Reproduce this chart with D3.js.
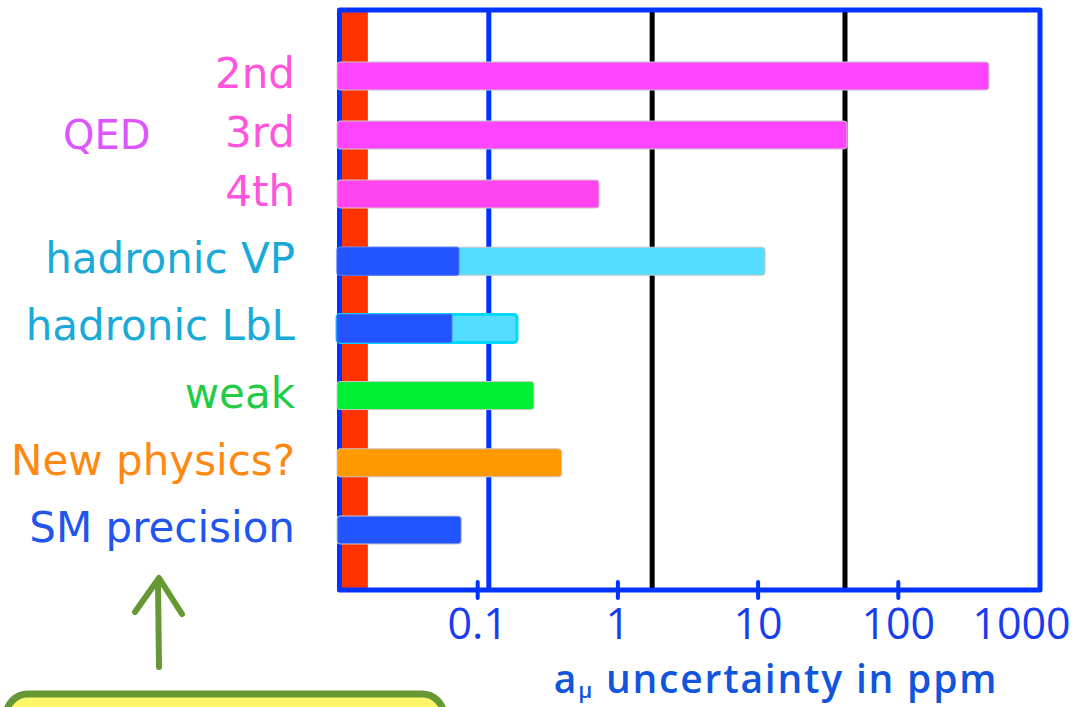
<!DOCTYPE html>
<html>
<head>
<meta charset="utf-8">
<script src="https://cdn.jsdelivr.net/npm/d3@7"></script>
<style>
  html, body { margin: 0; padding: 0; background: #ffffff; }
  svg { display: block; }
</style>
</head>
<body>
<svg id="chart" width="1082" height="707"></svg>
<script>
// Contributions to the muon anomaly and their uncertainty (ppm, log scale)
const rowLabels = ["2nd", "3rd", "4th", "hadronic VP", "hadronic LbL", "weak", "New physics?", "SM precision"];
const barValues = [447, 43.4, 0.74, 11.3, 0.192, 0.254, 0.40, 0.077];
// part of the hadronic bars that remains as uncertainty (darker segment)
const innerValues = [null, null, null, 0.074, 0.066, null, null, null];
const barColors = ["#ff44ff", "#ff44ff", "#ff44f0", "#55ddff", "#55ddff", "#00ee33", "#ff9900", "#2255ff"];
const barStrokes = ["#c8c8c8", "#c8c8c8", "#c8c8c8", "#c8c8c8", "#00d8ff", "#c8c8c8", "#c8c8c8", "#c8c8c8"];
const innerColor = "#2255ff";
const labelColors = ["#ff55dd", "#ff55dd", "#ff55dd", "#1aaad8", "#1aaad8", "#22cc44", "#ff8811", "#2255ee"];

const groupLabel = "QED";
const tickValues = [0.1, 1, 10, 100, 1000];
const tickLabels = ["0.1", "1", "10", "100", "1000"];

// reference levels drawn as vertical lines
const blueLine = 0.121;
const blackLines = [1.77, 42.0];
const redBand = [0.01, 0.0166];

const svg = d3.select("#chart");
svg.append("rect").attr("width", 1082).attr("height", 707).attr("fill", "#ffffff");

const x = d3.scaleLog().domain([0.01, 1000]).range([337, 1038]);
// QED orders sit a little closer together than the other rows
const yRow = d3.scaleLinear().domain([0, 2, 7]).range([76, 194, 530]);
const barH = 28;

const frameTop = 10, frameBottom = 590;
const frameLeft = x.range()[0] + 2.5, frameRight = x.range()[1] + 2;

// red band along the left edge
svg.append("rect")
  .attr("x", x(redBand[0]) + 4)
  .attr("y", frameTop)
  .attr("width", x(redBand[1]) - x(redBand[0]) - 4)
  .attr("height", frameBottom - frameTop)
  .attr("fill", "#ff3300");

// vertical reference lines
svg.append("line")
  .attr("x1", x(blueLine)).attr("x2", x(blueLine))
  .attr("y1", frameTop).attr("y2", frameBottom)
  .attr("stroke", "#0033ff").attr("stroke-width", 5);

svg.selectAll("line.black")
  .data(blackLines).join("line")
  .attr("class", "black")
  .attr("x1", d => x(d)).attr("x2", d => x(d))
  .attr("y1", frameTop).attr("y2", frameBottom)
  .attr("stroke", "#000000").attr("stroke-width", 5);

// plot frame
svg.append("rect")
  .attr("x", frameLeft).attr("y", frameTop)
  .attr("width", frameRight - frameLeft).attr("height", frameBottom - frameTop)
  .attr("fill", "none").attr("stroke", "#0033ff").attr("stroke-width", 5)
  .attr("stroke-linejoin", "round");

// bottom axis: small ticks crossing the frame plus labels
const axis = d3.axisBottom(x)
  .tickValues(tickValues)
  .tickFormat((d, i) => tickLabels[i])
  .tickSizeInner(16).tickSizeOuter(0).tickPadding(0);

const gAxis = svg.append("g")
  .attr("transform", `translate(0,${frameBottom - 8})`)
  .call(axis);
gAxis.select(".domain").remove();
gAxis.selectAll(".tick line")
  .attr("stroke", "#0033ff").attr("stroke-width", 4).attr("stroke-linecap", "round")
  .attr("opacity", d => d < x.domain()[1] ? 1 : 0);
gAxis.selectAll(".tick text")
  .attr("y", 57).attr("dy", null)
  .attr("dx", (d, i) => i === tickValues.length - 1 ? -17 : 0)
  .attr("fill", "#1a3cf0")
  .style("font-family", "'Open Sans', sans-serif")
  .style("font-weight", 400)
  .style("font-size", "43px");

// axis title
const title = svg.append("text")
  .attr("x", 776).attr("y", 693)
  .attr("text-anchor", "middle")
  .attr("fill", "#1155dd")
  .style("font-family", "'Open Sans', sans-serif")
  .style("font-weight", 600)
  .style("font-size", "39px")
  .style("letter-spacing", "1.8px");
title.append("tspan").text("a");
title.append("tspan").attr("dy", 5).style("font-size", "22px").text("μ");
title.append("tspan").attr("dy", -5).text(" uncertainty in ppm");

// bars
const rows = rowLabels.map((name, i) => ({
  name, i, value: barValues[i], inner: innerValues[i],
  color: barColors[i], stroke: barStrokes[i], labelColor: labelColors[i]
}));

const x0 = x.domain()[0];
svg.selectAll("rect.bar")
  .data(rows).join("rect")
  .attr("class", "bar")
  .attr("x", x(x0))
  .attr("y", d => yRow(d.i) - barH / 2)
  .attr("width", d => x(d.value) - x(x0))
  .attr("height", barH)
  .attr("rx", 3)
  .attr("fill", d => d.color)
  .attr("stroke", d => d.stroke)
  .attr("stroke-width", d => d.stroke === "#c8c8c8" ? 1 : 3);

svg.selectAll("rect.inner")
  .data(rows.filter(d => d.inner != null)).join("rect")
  .attr("class", "inner")
  .attr("x", x(x0))
  .attr("y", d => yRow(d.i) - barH / 2)
  .attr("width", d => x(d.inner) - x(x0))
  .attr("height", barH)
  .attr("rx", 2)
  .attr("fill", innerColor)
  .attr("stroke", "#4466ff").attr("stroke-width", 1);

// row labels
svg.selectAll("text.row")
  .data(rows).join("text")
  .attr("class", "row")
  .attr("x", 295)
  .attr("y", d => yRow(d.i) + 12)
  .attr("text-anchor", "end")
  .attr("fill", d => d.labelColor)
  .style("font-family", "'DejaVu Sans', sans-serif")
  .style("font-size", "42px")
  .text(d => d.name);

svg.append("text")
  .attr("x", 63).attr("y", (yRow(1) + 14))
  .attr("fill", "#dd55ff")
  .style("font-family", "'DejaVu Sans', sans-serif")
  .style("font-size", "40px")
  .text(groupLabel);

// green arrow pointing up at the precision row
const arrow = svg.append("g")
  .attr("stroke", "#669933").attr("fill", "none")
  .attr("stroke-linecap", "round").attr("stroke-linejoin", "round");
arrow.append("path").attr("d", "M159,667 L158,582").attr("stroke-width", 6);
arrow.append("path").attr("d", "M135,612 L159,578 L182,614").attr("stroke-width", 6);

// note box at the bottom edge
svg.append("rect")
  .attr("x", 6).attr("y", 694)
  .attr("width", 438).attr("height", 60)
  .attr("rx", 22)
  .attr("fill", "#fff66a")
  .attr("stroke", "#669933").attr("stroke-width", 7);
</script>
</body>
</html>
